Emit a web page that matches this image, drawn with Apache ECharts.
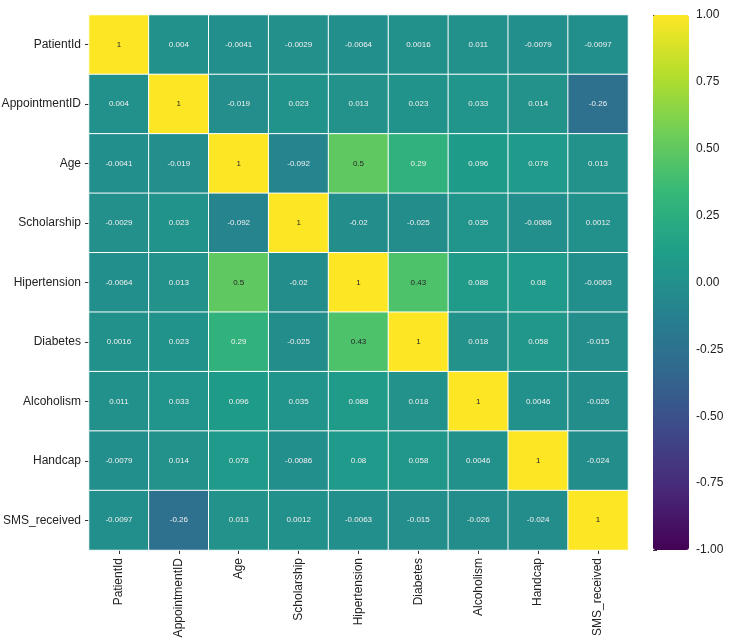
<!DOCTYPE html>
<html>
<head>
<meta charset="utf-8">
<script src="https://cdn.jsdelivr.net/npm/echarts@6/dist/echarts.min.js"></script>
<style>
  body { margin: 0; background: #fff; }
  #main { width: 730px; height: 640px; }
</style>
</head>
<body>
<div id="main"></div>
<script>
'use strict'

// variable names, same order on both axes
const labels = ['PatientId', 'AppointmentID', 'Age', 'Scholarship', 'Hipertension',
    'Diabetes', 'Alcoholism', 'Handcap', 'SMS_received'];

// correlation matrix, one row per variable
const corr = [
    [1, 0.004, -0.0041, -0.0029, -0.0064, 0.0016, 0.011, -0.0079, -0.0097],
    [0.004, 1, -0.019, 0.023, 0.013, 0.023, 0.033, 0.014, -0.26],
    [-0.0041, -0.019, 1, -0.092, 0.5, 0.29, 0.096, 0.078, 0.013],
    [-0.0029, 0.023, -0.092, 1, -0.02, -0.025, 0.035, -0.0086, 0.0012],
    [-0.0064, 0.013, 0.5, -0.02, 1, 0.43, 0.088, 0.08, -0.0063],
    [0.0016, 0.023, 0.29, -0.025, 0.43, 1, 0.018, 0.058, -0.015],
    [0.011, 0.033, 0.096, 0.035, 0.088, 0.018, 1, 0.0046, -0.026],
    [-0.0079, 0.014, 0.078, -0.0086, 0.08, 0.058, 0.0046, 1, -0.024],
    [-0.0097, -0.26, 0.013, 0.0012, -0.0063, -0.015, -0.026, -0.024, 1]
];

const viridis = ['#440154', '#482878', '#3e4989', '#31688e', '#26828e',
    '#1f9e89', '#35b779', '#6ece58', '#b5de2b', '#fde725'];

let cells = [];
for (let i = 0; i < labels.length; i++) {
    for (let j = 0; j < labels.length; j++) {
        cells.push({
            value: [j, i, corr[i][j]],
            // dark text on the light cells
            label: { color: corr[i][j] > 0.4 ? '#262626' : '#f0f0f0' }
        });
    }
}

var myChart = echarts.init(document.getElementById('main'));

var tickStyle = { show: true, length: 4, lineStyle: { color: '#333' } };

var option = {
    backgroundColor: '#fff',
    textStyle: { fontFamily: 'Liberation Sans, Arial, sans-serif' },
    animation: false,
    grid: [
        { left: 89, top: 15, width: 539, height: 535, containLabel: false, outerBoundsMode: 'none' },
        { left: 653, top: 15, width: 36, height: 535, containLabel: false, outerBoundsMode: 'none' }
    ],
    xAxis: [
        {
            type: 'category', data: labels, gridIndex: 0,
            axisLine: { show: false }, splitLine: { show: false },
            axisTick: Object.assign({ alignWithLabel: true }, tickStyle),
            axisLabel: { rotate: 90, color: '#222', fontSize: 12, margin: 8 }
        },
        { type: 'value', gridIndex: 1, show: false, min: 0, max: 1 }
    ],
    yAxis: [
        {
            type: 'category', data: labels, gridIndex: 0, inverse: true,
            axisLine: { show: false }, splitLine: { show: false },
            axisTick: Object.assign({ alignWithLabel: true }, tickStyle),
            axisLabel: { color: '#222', fontSize: 12, margin: 8 }
        },
        {
            type: 'value', gridIndex: 1, position: 'right', min: -1, max: 1, interval: 0.25,
            axisLine: { show: false }, splitLine: { show: false },
            axisTick: tickStyle,
            axisLabel: { color: '#222', fontSize: 12, margin: 7,
                formatter: v => v.toFixed(2) }
        }
    ],
    visualMap: {
        type: 'continuous', min: -1, max: 1, seriesIndex: 0,
        calculable: false, hoverLink: false, showLabel: false, text: null,
        padding: 0, itemGap: 0,
        left: 653, top: 15, itemWidth: 36, itemHeight: 535,
        inRange: { color: viridis }
    },
    series: [
        {
            type: 'heatmap', data: cells, xAxisIndex: 0, yAxisIndex: 0,
            itemStyle: { borderColor: '#fff', borderWidth: 1 },
            label: { show: true, fontSize: 8, formatter: p => String(p.value[2]) }
        },
        { type: 'line', data: [], xAxisIndex: 1, yAxisIndex: 1 }
    ]
};

myChart.setOption(option);
</script>
</body>
</html>
